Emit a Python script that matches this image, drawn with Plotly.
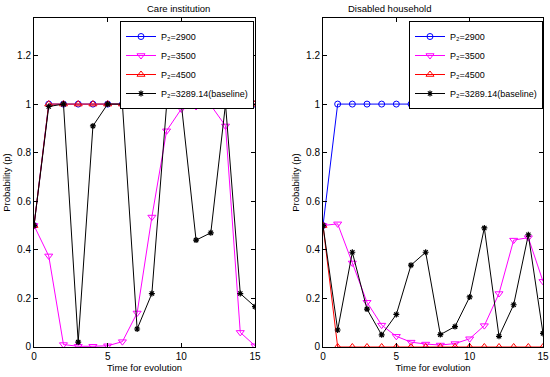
import plotly.graph_objects as go

t = list(range(16))

# Care institution
care_2900 = [0.5] + [1.0] * 15
care_3500 = [0.5, 0.375, 0.01, 0.003, 0.003, 0.005, 0.022, 0.14, 0.535, 0.89, 0.98, 0.99, 0.995, 0.91, 0.06, 0.005]
care_4500 = [0.5] + [1.0] * 15
care_base = [0.5, 0.99, 1.0, 0.02, 0.91, 1.0, 1.0, 0.074, 0.22, 0.995, 1.0, 0.44, 0.47, 1.0, 0.22, 0.166]

# Disabled household
dis_2900 = [0.5] + [1.0] * 15
dis_3500 = [0.5, 0.507, 0.346, 0.184, 0.09, 0.044, 0.02, 0.012, 0.008, 0.014, 0.034, 0.088, 0.22, 0.44, 0.45, 0.27]
dis_4500 = [0.5] + [0.0] * 15
dis_base = [0.5, 0.07, 0.39, 0.156, 0.05, 0.134, 0.337, 0.39, 0.051, 0.084, 0.206, 0.49, 0.044, 0.174, 0.462, 0.056]

names = ["P₂=2900", "P₂=3500", "P₂=4500", "P₂=3289.14(baseline)"]
colors = ["#0000ff", "#ff00ff", "#ff0000", "#000000"]
symbols = ["circle-open", "triangle-down-open", "triangle-up-open", "asterisk-open"]
sizes = [6, 7, 7, 5]

x_ticks = [0, 5, 10, 15]
y_ticks = [0, 0.2, 0.4, 0.6, 0.8, 1.0, 1.2]
y_tick_labels = ["0", "0.2", "0.4", "0.6", "0.8", "1", "1.2"]

fig = go.Figure()

panels = [
    ("x", "y", "legend", [care_2900, care_3500, care_4500, care_base]),
    ("x2", "y2", "legend2", [dis_2900, dis_3500, dis_4500, dis_base]),
]
for xa, ya, lg, series in panels:
    for i, vals in enumerate(series):
        fig.add_trace(go.Scatter(
            x=t, y=vals, xaxis=xa, yaxis=ya, legend=lg,
            name=names[i], mode="lines+markers",
            line=dict(color=colors[i], width=1),
            marker=dict(symbol=symbols[i], size=sizes[i], color=colors[i],
                        line=dict(color=colors[i], width=1.2 if i == 3 else 1)),
        ))

font = dict(family="Liberation Sans, Arial, sans-serif", size=10, color="#000000")

def xaxis(domain, anchor):
    return dict(domain=domain, anchor=anchor, range=[0, 15], tickvals=x_ticks,
                ticks="inside", ticklen=4, tickcolor="#000", showline=True, linecolor="#000",
                linewidth=1, mirror="allticks", showgrid=False, zeroline=False,
                title=dict(text="Time for evolution", font=dict(size=9.5), standoff=3),
                tickfont=dict(size=10), automargin=False)

def yaxis(anchor):
    return dict(domain=[0.0796, 0.952], anchor=anchor, range=[0, 1.354], tickvals=y_ticks,
                ticktext=y_tick_labels, ticks="inside", ticklen=4, tickcolor="#000",
                showline=True, linecolor="#000", linewidth=1, mirror="allticks",
                showgrid=False, zeroline=False,
                title=dict(text="Probability (p)", font=dict(size=9.5), standoff=4),
                tickfont=dict(size=10), automargin=False)

legend_common = dict(bgcolor="#ffffff", bordercolor="#000000", borderwidth=1,
                     font=dict(size=9), xanchor="left", yanchor="top",
                     tracegroupgap=0, itemwidth=30)

fig.update_layout(
    width=550, height=377,
    margin=dict(l=0, r=0, t=0, b=0, autoexpand=False),
    paper_bgcolor="#ffffff", plot_bgcolor="#ffffff",
    font=font,
    xaxis=xaxis([34 / 550, 255 / 550], "y"),
    yaxis=yaxis("x"),
    xaxis2=xaxis([323 / 550, 543 / 550], "y2"),
    yaxis2=yaxis("x2"),
    legend=dict(x=120 / 550, y=(377 - 21) / 377, **legend_common),
    legend2=dict(x=409 / 550, y=(377 - 21) / 377, **legend_common),
    annotations=[
        dict(text="Care institution", x=(34 + 255) / 2 / 550, y=(377 - 8) / 377,
             xref="paper", yref="paper", yanchor="middle", showarrow=False, font=dict(size=9.5)),
        dict(text="Disabled household", x=(323 + 543) / 2 / 550, y=(377 - 8) / 377,
             xref="paper", yref="paper", yanchor="middle", showarrow=False, font=dict(size=9.5)),
    ],
)

fig.write_html("out.html", config={"displayModeBar": False},
               post_script="document.body.style.margin='0';document.body.style.padding='0';")
